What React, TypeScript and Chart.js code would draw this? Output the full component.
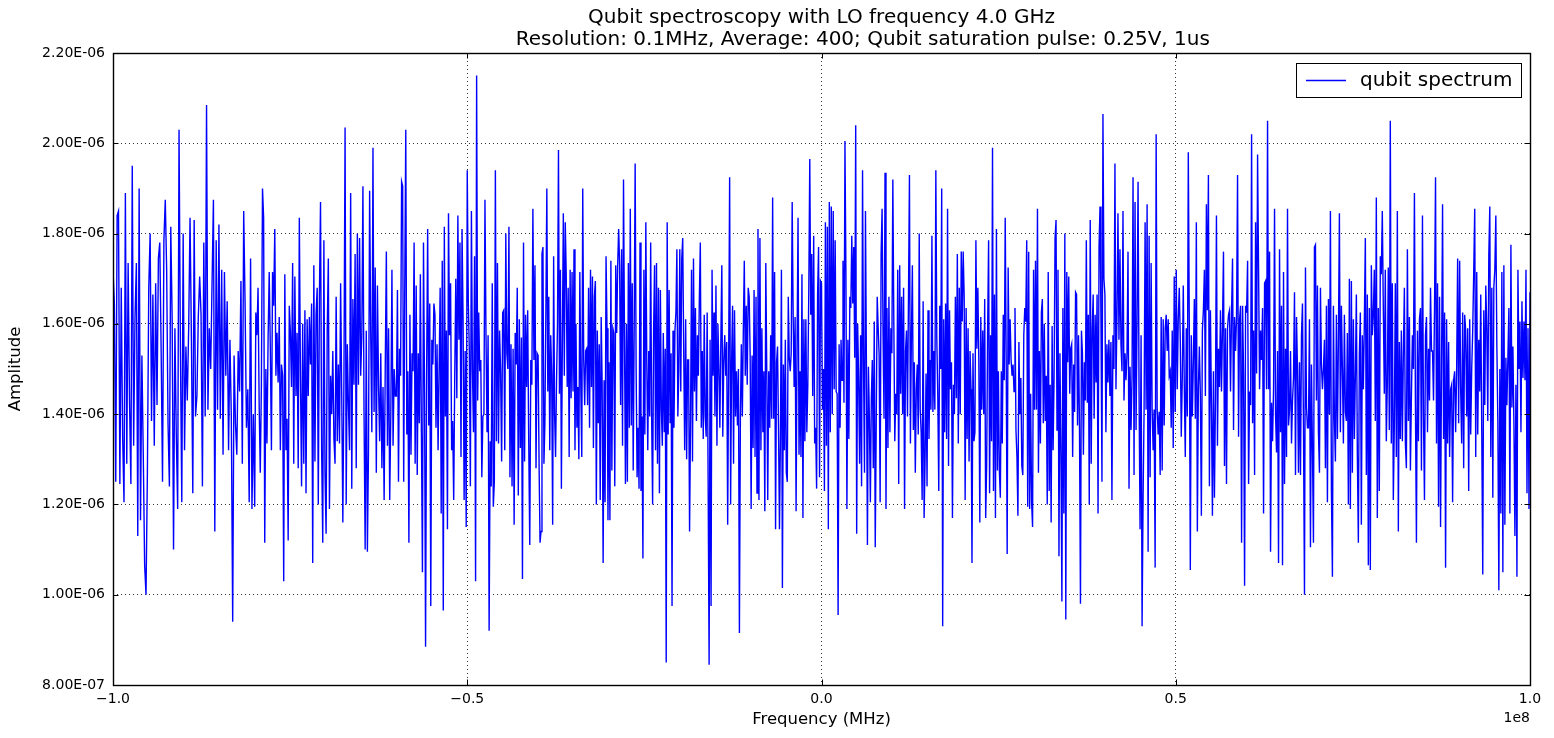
import React, { useEffect, useRef } from "react";
import { Chart, registerables } from "chart.js";

Chart.register(...registerables);

// ---- Titles / labels ----
const TITLE_LINE_1 = "Qubit spectroscopy with LO frequency 4.0 GHz";
const TITLE_LINE_2 = "             Resolution: 0.1MHz, Average: 400; Qubit saturation pulse: 0.25V, 1us";
const X_LABEL = "Frequency (MHz)";
const Y_LABEL = "Amplitude";
const SERIES_NAME = "qubit spectrum";
const X_OFFSET_TEXT = "1e8";

// ---- Axis ticks ----
const X_TICKS_HZ = [-1e8, -5e7, 0, 5e7, 1e8];
const Y_TICKS_E6 = [0.8, 1.0, 1.2, 1.4, 1.6, 1.8, 2.0, 2.2];

// ---- Spectrum data: amplitude (x 1e-6), one array per 20 MHz band ----
const SEG_START_MHZ = [-100, -80, -60, -40, -20, 0, 20, 40, 60, 80];
const SEG_SPAN_MHZ = 20;

const band1 = [1.72, 1.645, 1.25, 1.84, 1.85, 1.245, 1.68, 1.35, 1.205, 1.89, 1.29, 1.735, 1.43, 1.245, 1.95, 1.33, 1.615, 1.735, 1.13, 1.90, 1.165, 1.53, 1.31, 1.065, 1.00, 1.27, 1.68, 1.80, 1.385, 1.665, 1.33, 1.69, 1.42, 1.745, 1.78, 1.54, 1.25, 1.785, 1.875, 1.72, 1.38, 1.24, 1.815, 1.61, 1.10, 1.59, 1.355, 1.19, 2.03, 1.54, 1.205, 1.80, 1.32, 1.55, 1.43, 1.59, 1.835, 1.565, 1.225, 1.83, 1.395, 1.44, 1.615, 1.705, 1.62, 1.24, 1.78, 1.395, 2.085, 1.41, 1.59, 1.50, 1.69, 1.875, 1.14, 1.785, 1.41, 1.82, 1.39, 1.72, 1.31, 1.715, 1.485, 1.65, 1.32, 1.565, 1.395, 0.94, 1.53, 1.38, 1.31, 1.54, 1.45, 1.695, 1.29, 1.85, 1.645, 1.37, 1.455, 1.205, 1.745, 1.19, 1.40];
const band2 = [1.195, 1.625, 1.575, 1.68, 1.42, 1.27, 1.465, 1.90, 1.835, 1.115, 1.50, 1.335, 1.565, 1.715, 1.545, 1.32, 1.715, 1.64, 1.81, 1.485, 1.58, 1.47, 1.615, 1.32, 1.51, 1.485, 1.03, 1.71, 1.32, 1.39, 1.12, 1.64, 1.58, 1.46, 1.735, 1.29, 1.705, 1.44, 1.58, 1.28, 1.835, 1.485, 1.24, 1.60, 1.29, 1.63, 1.225, 1.61, 1.44, 1.615, 1.51, 1.645, 1.07, 1.73, 1.295, 1.62, 1.68, 1.20, 1.66, 1.87, 1.32, 1.115, 1.785, 1.27, 1.135, 1.585, 1.745, 1.19, 1.485, 1.40, 1.54, 1.345, 1.29, 1.66, 1.34, 1.51, 1.335, 1.69, 1.445, 1.16, 1.485, 2.035, 1.20, 1.555, 1.42, 1.32, 1.89, 1.235, 1.655, 1.465, 1.755, 1.28, 1.80, 1.465, 1.79, 1.485, 1.575, 1.905, 1.40, 1.10, 1.585, 1.095, 1.32, 1.895, 1.575, 1.36, 1.99, 1.405, 1.725, 1.27, 1.685, 1.46, 1.34, 1.535, 1.28, 1.46, 1.21, 1.50, 1.76, 1.33, 1.59, 1.21, 1.40, 1.72, 1.33, 1.50, 1.44];
const band3 = [1.44, 1.675, 1.25, 1.545, 1.485, 1.915, 1.905, 1.25, 1.675, 2.03, 1.355, 1.495, 1.115, 1.62, 1.31, 1.535, 1.495, 1.78, 1.29, 1.685, 1.265, 1.535, 1.38, 1.71, 1.36, 1.05, 1.78, 1.45, 0.885, 1.495, 1.81, 1.375, 1.645, 0.975, 1.565, 1.51, 1.645, 1.62, 1.37, 1.555, 1.32, 1.50, 1.68, 1.18, 1.74, 0.965, 1.815, 1.395, 1.585, 1.145, 1.845, 1.575, 1.69, 1.32, 1.385, 1.21, 1.485, 1.70, 1.435, 1.84, 1.565, 1.78, 1.305, 1.81, 1.61, 1.21, 1.54, 1.15, 1.94, 1.65, 1.54, 1.24, 1.85, 1.495, 1.36, 1.75, 1.03, 2.15, 1.43, 1.625, 1.495, 1.52, 1.26, 1.395, 1.40, 1.875, 1.575, 1.36, 1.575, 0.92, 1.34, 1.24, 1.69, 1.195, 1.25, 1.94, 1.34, 1.735, 1.335, 1.585, 1.495, 1.295, 1.625, 1.63, 1.32, 1.80, 1.535, 1.50, 1.815, 1.26, 1.555, 1.24, 1.545, 1.155, 1.58, 1.51, 1.68, 1.22, 1.61, 1.325, 1.57, 1.035, 1.78, 1.295, 1.62, 1.46, 1.63, 1.34, 1.11, 1.52, 1.465, 1.855, 1.52, 1.73, 1.28, 1.535];
const band4 = [1.53, 1.29, 1.115, 1.14, 1.755, 1.77, 1.29, 1.38, 1.625, 1.90, 1.45, 1.66, 1.32, 1.575, 1.485, 1.155, 1.75, 1.40, 1.305, 1.475, 1.60, 1.985, 1.445, 1.72, 1.235, 1.56, 1.845, 1.485, 1.825, 1.705, 1.46, 1.68, 1.305, 1.72, 1.435, 1.715, 1.45, 1.765, 1.32, 1.60, 1.37, 1.46, 1.30, 1.715, 1.46, 1.305, 1.90, 1.52, 1.42, 1.54, 1.545, 1.42, 1.68, 1.37, 1.72, 1.46, 1.705, 1.325, 1.66, 1.695, 1.20, 1.585, 1.38, 1.555, 1.21, 1.615, 1.465, 1.07, 1.475, 1.205, 1.75, 1.59, 1.165, 1.515, 1.165, 1.74, 1.275, 1.59, 1.58, 1.24, 1.73, 1.58, 1.73, 1.81, 1.73, 1.42, 1.765, 1.33, 1.92, 1.575, 1.245, 1.60, 1.25, 1.735, 1.37, 1.855, 1.375, 1.69, 1.275, 1.59, 1.955, 1.50, 1.26, 1.37, 1.235, 1.78, 1.23, 1.395, 1.08, 1.72, 1.355, 1.825, 1.51, 1.32, 1.54, 1.395, 1.78, 1.39, 1.20, 1.585, 1.73, 1.32, 1.735, 1.29, 1.68, 1.225, 1.675, 1.41, 1.33, 1.58, 1.36, 1.545, 0.85, 1.825, 1.355, 1.675, 1.38, 1.535, 0.975, 1.585, 1.37, 1.585, 1.625, 1.765, 1.395, 1.495];
const band5 = [1.765, 1.45, 1.745, 1.79, 1.54, 1.32, 1.61, 1.30, 1.52, 1.52, 1.14, 1.39, 1.72, 1.295, 1.745, 1.45, 1.635, 1.385, 1.575, 1.485, 1.655, 1.78, 1.37, 1.54, 1.345, 1.62, 1.395, 1.35, 1.625, 1.25, 0.845, 1.565, 0.975, 1.72, 1.485, 1.625, 1.395, 1.685, 1.33, 1.60, 1.50, 1.37, 1.565, 1.73, 1.35, 1.52, 1.575, 1.485, 1.56, 1.155, 1.52, 1.925, 1.20, 1.515, 1.64, 1.29, 1.63, 1.395, 1.495, 1.375, 1.50, 0.915, 1.395, 1.555, 1.395, 1.585, 1.74, 1.485, 1.64, 1.465, 1.68, 1.66, 1.53, 1.19, 1.53, 1.325, 1.675, 1.305, 1.66, 1.225, 1.81, 1.21, 1.79, 1.32, 1.59, 1.36, 1.495, 1.185, 1.735, 1.495, 1.21, 1.495, 1.37, 1.575, 1.39, 1.88, 1.39, 1.715, 1.145, 1.515, 1.55, 1.37, 1.145, 1.355, 1.72, 1.015, 1.51, 1.32, 1.565, 1.27, 1.25, 1.66, 1.525, 1.495, 1.535, 1.87, 1.62, 1.46, 1.615, 1.185, 1.555, 1.835, 1.31, 1.495, 1.305, 1.71, 1.17, 1.61, 1.34, 1.61, 1.36, 1.465, 1.675, 1.965, 1.62, 1.755, 1.44, 1.795, 1.335, 1.37, 1.235, 1.665, 1.77, 1.26, 1.695];
const band6 = [1.69, 1.41, 1.50, 1.23, 1.825, 1.33, 1.815, 1.145, 1.87, 1.36, 1.86, 1.40, 1.85, 1.455, 1.785, 1.45, 1.445, 0.955, 1.555, 1.37, 1.565, 1.475, 1.74, 1.425, 2.005, 1.71, 1.19, 1.565, 1.345, 1.66, 1.635, 1.795, 1.645, 1.77, 1.525, 2.04, 1.135, 1.60, 1.48, 1.29, 1.575, 1.24, 1.94, 1.51, 1.27, 1.85, 1.50, 1.11, 1.505, 1.39, 1.205, 1.435, 1.52, 1.28, 1.605, 1.105, 1.375, 1.66, 1.59, 1.53, 1.205, 1.755, 1.855, 1.575, 1.39, 1.935, 1.19, 1.635, 1.325, 1.66, 1.36, 1.59, 1.535, 1.92, 1.605, 1.34, 1.445, 1.40, 1.72, 1.245, 1.73, 1.445, 1.66, 1.40, 1.68, 1.19, 1.54, 1.585, 1.395, 1.655, 1.93, 1.335, 1.575, 1.73, 1.365, 1.515, 1.27, 1.455, 1.51, 1.355, 1.80, 1.41, 1.36, 1.21, 1.65, 1.17, 1.30, 1.49, 1.24, 1.63, 1.345, 1.52, 1.41, 1.795, 1.405, 1.54, 1.41, 1.94, 1.565, 1.44, 1.23, 1.64, 1.50, 1.90, 0.93, 1.61, 1.36, 1.645, 1.345, 1.855, 1.285, 1.63, 1.455, 1.515, 1.17, 1.465, 1.40, 1.66, 1.435, 1.755, 1.335, 1.68, 1.40, 1.76, 1.605];
const band7 = [1.76, 1.66, 1.21, 1.635, 1.345, 1.59, 1.295, 1.54, 1.455, 1.07, 1.535, 1.34, 1.36, 1.785, 1.545, 1.68, 1.52, 1.16, 1.615, 1.41, 1.585, 1.40, 1.655, 1.17, 1.285, 1.585, 1.785, 1.225, 1.575, 1.34, 1.99, 1.23, 1.665, 1.17, 1.81, 1.275, 1.495, 1.275, 1.215, 1.495, 1.335, 1.62, 1.475, 1.835, 1.52, 1.09, 1.725, 1.51, 1.61, 1.52, 1.485, 1.51, 1.45, 1.635, 1.365, 1.305, 1.175, 1.56, 1.40, 1.48, 1.285, 1.265, 1.575, 1.635, 1.605, 1.785, 1.195, 1.76, 1.19, 1.445, 1.205, 1.15, 1.72, 1.41, 1.74, 1.41, 1.855, 1.27, 1.54, 1.335, 1.625, 1.655, 1.38, 1.60, 1.385, 1.485, 1.20, 1.715, 1.23, 1.465, 1.16, 1.595, 1.32, 1.485, 1.79, 1.83, 1.365, 1.72, 1.085, 1.535, 1.32, 0.985, 1.635, 1.18, 1.80, 0.945, 1.715, 1.515, 1.705, 1.445, 1.545, 1.555, 1.305, 1.51, 1.405, 1.67, 1.665, 1.375, 1.575, 1.37, 0.98, 1.585, 1.535, 1.31, 1.515, 1.43, 1.785, 1.425, 1.62, 1.20, 1.83, 1.29, 1.585, 1.665, 1.39, 1.62, 1.47, 1.665, 1.18, 1.77, 1.86, 1.60, 1.25, 2.065, 1.70];
const band8 = [1.665, 1.36, 1.555, 1.47, 1.565, 1.44, 1.56, 1.21, 1.575, 1.50, 1.955, 1.455, 1.615, 1.845, 1.565, 1.765, 1.555, 1.495, 1.85, 1.43, 1.535, 1.475, 1.535, 1.76, 1.235, 1.505, 1.365, 1.485, 1.925, 1.265, 1.87, 1.365, 1.61, 1.915, 1.44, 1.145, 1.575, 0.93, 1.215, 1.41, 1.825, 1.41, 1.865, 1.095, 1.795, 1.26, 1.735, 1.41, 1.32, 1.41, 1.06, 2.02, 1.41, 1.355, 1.405, 1.265, 1.615, 1.275, 1.61, 1.375, 1.59, 1.62, 1.54, 1.61, 1.485, 1.495, 1.37, 1.585, 1.325, 1.705, 1.405, 1.72, 1.455, 1.61, 1.68, 1.565, 1.35, 1.48, 1.685, 1.46, 1.305, 1.59, 1.395, 1.98, 1.59, 1.055, 1.575, 1.395, 1.515, 1.655, 1.39, 1.825, 1.14, 1.455, 1.55, 1.44, 1.175, 1.585, 1.63, 1.72, 1.44, 1.865, 1.63, 1.93, 1.24, 1.63, 1.42, 1.175, 1.495, 1.215, 1.43, 1.84, 1.33, 1.545, 1.46, 1.63, 1.45, 1.59, 1.76, 1.285, 1.59, 1.245, 1.59, 1.62, 1.63, 1.45, 1.62, 1.745, 1.365, 1.615, 1.54, 1.615, 1.93, 1.35, 1.61, 1.64, 1.115, 1.64, 1.485, 1.02, 1.64];
const band9 = [1.625, 1.74, 1.245, 1.45, 1.42, 2.02, 1.38, 1.585, 1.265, 1.825, 1.49, 1.975, 1.72, 1.455, 1.585, 1.52, 1.635, 1.18, 1.69, 1.695, 1.455, 2.05, 1.455, 1.76, 1.095, 1.425, 1.34, 1.455, 1.855, 1.40, 1.315, 1.54, 1.07, 1.765, 1.36, 1.64, 1.065, 1.715, 1.245, 1.545, 1.305, 1.855, 1.375, 1.41, 1.54, 1.335, 1.43, 1.48, 1.67, 1.265, 1.615, 1.50, 1.27, 1.515, 1.265, 1.575, 1.645, 1.37, 1.00, 1.725, 1.415, 1.37, 1.37, 1.61, 1.105, 1.51, 1.32, 1.115, 1.77, 1.775, 1.43, 1.685, 1.36, 1.27, 1.68, 1.51, 1.455, 1.50, 1.565, 1.28, 1.64, 1.205, 1.655, 1.40, 1.85, 1.23, 1.04, 1.64, 1.39, 1.295, 1.62, 1.345, 1.565, 1.845, 1.36, 1.64, 1.50, 1.335, 1.62, 1.405, 1.385, 1.58, 1.20, 1.70, 1.19, 1.695, 1.27, 1.61, 1.345, 1.485, 1.665, 1.305, 1.115, 1.535, 1.625, 1.155, 1.575, 1.455, 1.605, 1.79, 1.265, 1.665, 1.065, 1.635, 1.055, 1.73, 1.575, 1.62, 1.72, 1.385, 1.88, 1.17, 1.635, 1.23, 1.75, 1.71, 1.85, 1.635, 1.445, 1.72, 1.34, 1.465];
const band10 = [1.725, 1.365, 2.05, 1.335, 1.69, 1.21, 1.375, 1.69, 1.305, 1.85, 1.14, 1.56, 1.345, 1.585, 1.34, 1.535, 1.68, 1.335, 1.28, 1.765, 1.385, 1.615, 1.275, 1.44, 1.575, 1.50, 1.89, 1.42, 1.115, 1.585, 1.34, 1.61, 1.635, 1.275, 1.84, 1.395, 1.21, 1.575, 1.615, 1.36, 1.545, 1.43, 1.68, 1.54, 1.54, 1.43, 1.635, 1.925, 1.335, 1.69, 1.195, 1.66, 1.15, 1.51, 1.865, 1.345, 1.625, 1.06, 1.61, 1.335, 1.56, 1.305, 1.455, 1.465, 1.205, 1.475, 1.495, 1.36, 1.495, 1.745, 1.38, 1.74, 1.455, 1.335, 1.625, 1.28, 1.62, 1.585, 1.395, 1.59, 1.23, 1.61, 1.355, 1.50, 1.585, 1.715, 1.855, 1.305, 1.715, 1.355, 1.565, 1.45, 1.665, 1.36, 1.045, 1.63, 1.42, 1.685, 1.59, 1.385, 1.75, 1.86, 1.305, 1.68, 1.215, 1.68, 1.72, 1.84, 1.555, 1.385, 1.01, 1.50, 1.18, 1.715, 1.05, 1.73, 1.155, 1.525, 1.42, 1.525, 1.635, 1.18, 1.775, 1.415, 1.55, 1.38, 1.13, 1.465, 1.04, 1.72, 1.50, 1.605, 1.36, 1.65, 1.48, 1.605, 1.475, 1.72, 1.225, 1.59, 1.19, 1.67];

const BANDS = [band1, band2, band3, band4, band5, band6, band7, band8, band9, band10];

function buildPoints() {
  const pts: { x: number; y: number }[] = [];
  BANDS.forEach((band, k) => {
    const last = k === BANDS.length - 1;
    const n = last ? band.length - 1 : band.length;
    band.forEach((v, i) => {
      pts.push({ x: (SEG_START_MHZ[k] + (i * SEG_SPAN_MHZ) / n) * 1e6, y: v });
    });
  });
  return pts;
}

function sciLabel(vE6: number) {
  const v = vE6 * 1e-6;
  const [m, e] = v.toExponential(2).split("e");
  const ev = parseInt(e, 10);
  const sign = ev < 0 ? "-" : "+";
  const abs = Math.abs(ev).toString().padStart(2, "0");
  return `${m}E${sign}${abs}`;
}

function xLabel(v: number) {
  const s = (v / 1e8).toFixed(1);
  return s.startsWith("-") ? "\u2212" + s.slice(1) : s;
}

const FONT = "'DejaVu Sans', sans-serif";

const framePlugin = {
  id: "frame",
  afterDraw(chart: any) {
    const { ctx, chartArea } = chart;
    const { left, right, top, bottom } = chartArea;
    const xs = chart.scales.x;
    const ys = chart.scales.y;
    ctx.save();
    // inward ticks
    ctx.strokeStyle = "#000";
    ctx.lineWidth = 1;
    ctx.beginPath();
    X_TICKS_HZ.forEach((t) => {
      const px = Math.round(xs.getPixelForValue(t)) + 0.5;
      ctx.moveTo(px, bottom);
      ctx.lineTo(px, bottom - 5.5);
      ctx.moveTo(px, top);
      ctx.lineTo(px, top + 5.5);
    });
    Y_TICKS_E6.forEach((t) => {
      const py = Math.round(ys.getPixelForValue(t)) + 0.5;
      ctx.moveTo(left, py);
      ctx.lineTo(left + 5.5, py);
      ctx.moveTo(right, py);
      ctx.lineTo(right - 5.5, py);
    });
    ctx.stroke();
    // axes box
    ctx.lineWidth = 1.4;
    ctx.strokeRect(Math.round(left) + 0.5, Math.round(top) + 0.5, Math.round(right - left), Math.round(bottom - top));
    // offset text
    ctx.fillStyle = "#000";
    ctx.font = `14px ${FONT}`;
    ctx.textAlign = "right";
    ctx.textBaseline = "middle";
    ctx.fillText(X_OFFSET_TEXT, right, 718);
    // legend
    const lx = right - 234;
    const ly = top + 10;
    const lw = 225;
    const lh = 34;
    ctx.fillStyle = "#fff";
    ctx.fillRect(lx, ly, lw, lh);
    ctx.strokeStyle = "#000";
    ctx.lineWidth = 1;
    ctx.strokeRect(lx + 0.5, ly + 0.5, lw, lh);
    ctx.strokeStyle = "#0000ff";
    ctx.lineWidth = 1.4;
    ctx.beginPath();
    ctx.moveTo(lx + 10, ly + 17.5);
    ctx.lineTo(lx + 50, ly + 17.5);
    ctx.stroke();
    ctx.fillStyle = "#000";
    ctx.font = `20px ${FONT}`;
    ctx.textAlign = "left";
    ctx.fillText(SERIES_NAME, lx + 64, ly + 18);
    ctx.restore();
  },
};

export default function App() {
  const ref = useRef<HTMLCanvasElement | null>(null);

  useEffect(() => {
    document.body.style.margin = "0";
    const canvas = ref.current;
    if (!canvas) return;
    Chart.defaults.font.family = FONT;
    Chart.defaults.color = "#000";
    const chart = new Chart(canvas, {
      type: "line",
      data: {
        datasets: [
          {
            label: SERIES_NAME,
            data: buildPoints(),
            borderColor: "#0000ff",
            borderWidth: 1.39,
            pointRadius: 0,
            tension: 0,
            fill: false,
          },
        ],
      },
      options: {
        animation: false,
        responsive: false,
        devicePixelRatio: 1,
        parsing: false,
        layout: { padding: { left: 0, right: 24, top: 0, bottom: 0 } },
        plugins: {
          legend: { display: false },
          tooltip: { enabled: false },
          title: {
            display: true,
            fullSize: false,
            text: [TITLE_LINE_1, TITLE_LINE_2],
            color: "#000",
            font: { family: FONT, size: 20, weight: "normal", lineHeight: 1.1 },
            padding: { top: 7, bottom: 2 },
          },
        },
        scales: {
          x: {
            type: "linear",
            min: -1e8,
            max: 1e8,
            afterFit: (s: any) => {
              s.height = 53;
            },
            afterBuildTicks: (s: any) => {
              s.ticks = X_TICKS_HZ.map((v) => ({ value: v }));
            },
            ticks: {
              callback: (v: any) => xLabel(Number(v)),
              font: { family: FONT, size: 14 },
              color: "#000",
              padding: 6,
              maxRotation: 0,
              autoSkip: false,
            },
            grid: { color: "rgba(0,0,0,0.8)", lineWidth: 1, drawTicks: false },
            border: { display: false, dash: [1, 3] },
            title: {
              display: true,
              text: X_LABEL,
              font: { family: FONT, size: 16.5 },
              color: "#000",
              padding: { top: 0, bottom: 8 },
            },
          },
          y: {
            type: "linear",
            min: 0.8,
            max: 2.2,
            afterFit: (s: any) => {
              s.width = 113;
            },
            afterBuildTicks: (s: any) => {
              s.ticks = Y_TICKS_E6.map((v) => ({ value: v }));
            },
            ticks: {
              callback: (v: any) => sciLabel(Number(v)),
              font: { family: FONT, size: 14 },
              color: "#000",
              padding: 8,
              autoSkip: false,
            },
            grid: { color: "rgba(0,0,0,0.8)", lineWidth: 1, drawTicks: false },
            border: { display: false, dash: [1, 3] },
            title: {
              display: true,
              text: Y_LABEL,
              font: { family: FONT, size: 16.5 },
              color: "#000",
              padding: { top: 6, bottom: 0 },
            },
          },
        },
      },
      plugins: [framePlugin],
    });
    return () => chart.destroy();
  }, []);

  return (
    <div style={{ position: "relative", width: 1554, height: 738, background: "#fff" }}>
      <canvas ref={ref} width={1554} height={738} style={{ display: "block", width: 1554, height: 738 }} />
    </div>
  );
}
